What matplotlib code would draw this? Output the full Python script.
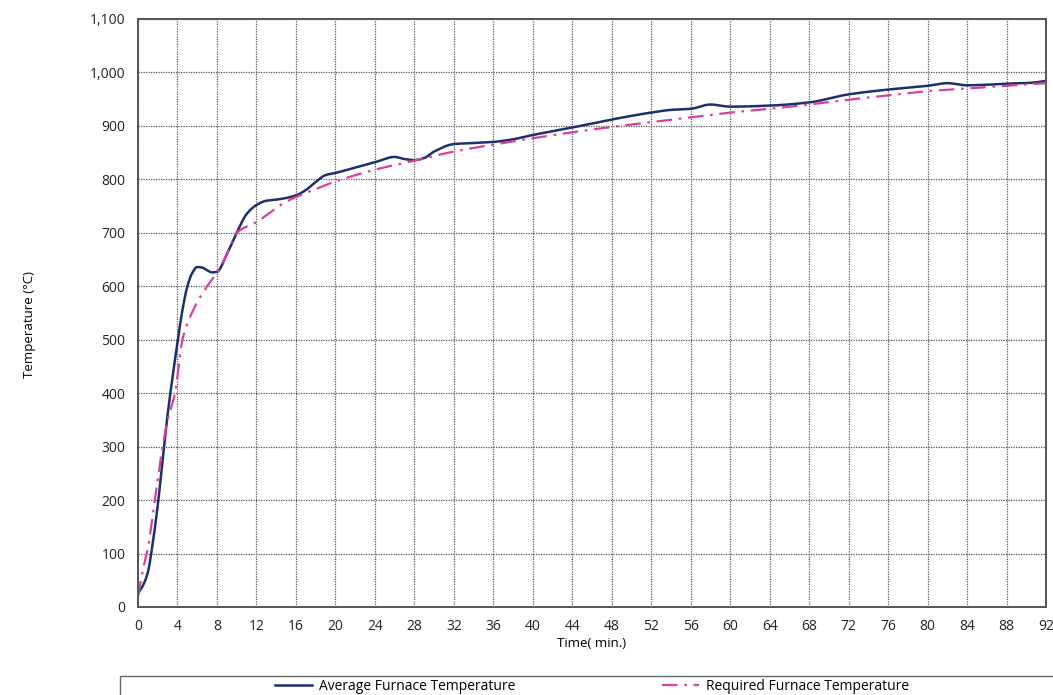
import numpy as np
import matplotlib.pyplot as plt
from matplotlib.patches import Rectangle
from matplotlib.ticker import FuncFormatter, MultipleLocator

plt.rcParams['font.family'] = ['Open Sans', 'DejaVu Sans']

# Average furnace temperature
avg_t = [0, 0.5, 1, 1.5, 2, 2.5, 3, 3.5, 4, 4.5, 5, 5.5, 6, 6.5, 7, 7.5, 8, 9, 10, 11, 12, 13, 14,
         16, 17, 18, 19, 20, 22, 24, 26, 27, 28, 29, 30, 32, 34, 36, 38, 40, 44, 48, 52, 54,
         56, 58, 60, 64, 68, 72, 76, 80, 82, 84, 86, 88, 90, 92]
avg_temp = [25, 40, 65, 120, 190, 275, 360, 430, 495, 555, 600, 625, 636, 635, 630, 626, 627, 660,
            700, 735, 752, 760, 762, 770, 780, 795, 808, 812, 822, 832, 842, 838, 836, 840, 852,
            866, 868, 870, 875, 883, 897, 912, 925, 930, 932, 940, 936, 938, 944, 959, 968, 975,
            980, 976, 977, 979, 980, 984]

# Required furnace temperature
req_t = [0, 0.5, 1, 1.7, 2.5, 3, 3.75, 4.5, 5, 6, 7, 8, 9, 10, 12, 15, 18, 20, 24, 28, 32, 36, 40,
         44, 48, 52, 56, 60, 64, 68, 72, 76, 80, 84, 88, 92]
req_temp = [20, 70, 110, 200, 300, 350, 400, 500, 530, 570, 600, 625, 660, 700, 720, 758, 782,
            796, 818, 835, 852, 865, 877, 888, 898, 907, 916, 925, 932, 940, 949, 957, 965, 970,
            975, 980]


def pchip(x, y, xs):
    # monotone cubic hermite, just to draw the line smooth like the original
    x = np.asarray(x, float)
    y = np.asarray(y, float)
    h = np.diff(x)
    d = np.diff(y) / h
    m = np.zeros_like(y)
    for i in range(1, len(x) - 1):
        if d[i - 1] * d[i] > 0:
            w1 = 2 * h[i] + h[i - 1]
            w2 = h[i] + 2 * h[i - 1]
            m[i] = (w1 + w2) / (w1 / d[i - 1] + w2 / d[i])
    m[0], m[-1] = d[0], d[-1]
    idx = np.clip(np.searchsorted(x, xs) - 1, 0, len(h) - 1)
    t = (xs - x[idx]) / h[idx]
    h00 = 2 * t**3 - 3 * t**2 + 1
    h10 = t**3 - 2 * t**2 + t
    h01 = -2 * t**3 + 3 * t**2
    h11 = t**3 - t**2
    return h00 * y[idx] + h10 * h[idx] * m[idx] + h01 * y[idx + 1] + h11 * h[idx] * m[idx + 1]


fig = plt.figure(figsize=(10.53, 6.95), dpi=100)
ax = fig.add_axes([138 / 1053, 1 - 607 / 695, 908 / 1053, 588 / 695])

ts = np.linspace(0, 92, 1500)
ax.plot(ts, pchip(avg_t, avg_temp, ts), color='#1f2f6b', lw=1.8,
        label='Average Furnace Temperature')
ax.plot(ts, pchip(req_t, req_temp, ts), color='#d8409c', lw=1.6,
        linestyle=(0, (7, 3, 1.2, 3)), label='Required Furnace Temperature')

ax.set_xlim(0, 92)
ax.set_ylim(0, 1100)
ax.xaxis.set_major_locator(MultipleLocator(4))
ax.yaxis.set_major_locator(MultipleLocator(100))
ax.yaxis.set_major_formatter(FuncFormatter(lambda v, p: f'{int(v):,}'))
ax.tick_params(length=0, pad=9, labelsize=10, colors='#222222')
ax.grid(True, color='#555555', linestyle=(0, (1, 1)), lw=0.9)
for s in ax.spines.values():
    s.set_color('#555555')
    s.set_linewidth(1.4)

ax.set_xlabel('Time( min.)', fontsize=9.5, labelpad=2)
fig.text(30 / 1053, 1 - 325 / 695, 'Temperature (°C)', rotation=90, fontsize=9.5,
         ha='center', va='center')

# legend box, cut off at bottom/right like the original
fig.patches.append(Rectangle((120 / 1053, -0.05), 1.0, 0.05 + 1 - 676 / 695,
                             transform=fig.transFigure, fill=False,
                             edgecolor='#666666', lw=1.0))
fig.legend(loc='center', bbox_to_anchor=(592 / 1053, 1 - 686 / 695), ncol=2,
           frameon=False, fontsize=10, handlelength=2.7, columnspacing=10.5,
           handletextpad=0.5, borderaxespad=0)

fig.savefig('out.png', dpi=100)
